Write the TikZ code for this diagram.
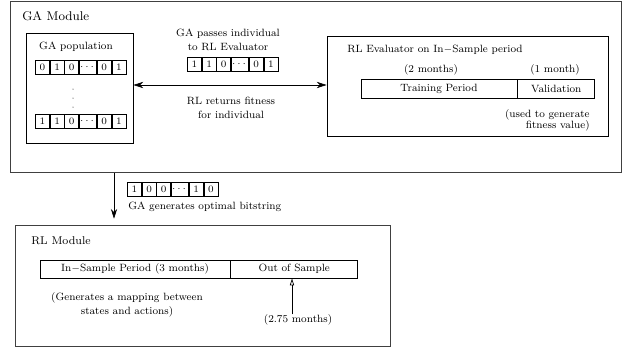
\documentclass[tikz,border=0pt]{standalone}
\usepackage{amsmath,amssymb}
\usepackage{tikz}
\usetikzlibrary{arrows.meta}
\usetikzlibrary{positioning}

\tikzset{
  module/.style={draw, line width=0.7pt, color=black!75, inner sep=0cm},
  subbox/.style={draw, line width=0.5pt, inner sep=0cm},
  cell/.style={draw, line width=0.5pt, inner sep=0cm, minimum width=0.35cm,
               minimum height=0.35cm, font=\fontsize{7}{8}\selectfont},
  dotcell/.style={cell, minimum width=0.425cm},
  period/.style={draw, line width=0.5pt, inner sep=0cm,
                 font=\fontsize{7.5}{9}\selectfont},
  txt/.style={font=\fontsize{7.5}{10}\selectfont, inner sep=0cm},
  title/.style={font=\fontsize{9}{11}\selectfont, inner sep=0cm, anchor=west},
  solidtip/.style={line width=0.5pt, -{Stealth[length=7pt,width=4.5pt]}},
  bothtips/.style={line width=0.5pt,
    {Stealth[length=7pt,width=4.5pt]}-{Stealth[length=7pt,width=4.5pt]}},
}

\begin{document}
\begin{tikzpicture}[x=0.025cm, y=-0.025cm]
\useasboundingbox (0,0) rectangle (624,349);

% GA module
\node[module, minimum width=15.25cm, minimum height=4.25cm] (gamod) at (316,87) {};
\node[title] (gatitle) at (22,16) {GA Module};

\node[subbox, minimum width=2.675cm, minimum height=2.75cm] (gapop) at (79.5,88) {};
\node[txt] (poptitle) at (76,47) {GA population};

\node[cell, anchor=west] (pa1) at (35,67) {0};
\node[cell, right=0pt of pa1] (pa2) {1};
\node[cell, right=0pt of pa2] (pa3) {0};
\node[dotcell, right=0pt of pa3] (pa4) {$\cdots$};
\node[cell, right=0pt of pa4] (pa5) {0};
\node[cell, right=0pt of pa5] (pa6) {1};

\fill (73,89) circle (0.5);
\fill (73,98) circle (0.5);
\fill (73,107) circle (0.5);

\node[cell, anchor=west] (pb1) at (35,121) {1};
\node[cell, right=0pt of pb1] (pb2) {1};
\node[cell, right=0pt of pb2] (pb3) {0};
\node[dotcell, right=0pt of pb3] (pb4) {$\cdots$};
\node[cell, right=0pt of pb4] (pb5) {0};
\node[cell, right=0pt of pb5] (pb6) {1};

\node[txt, align=center] (passes) at (228,40) {GA passes individual\\to RL Evaluator};
\node[cell, anchor=west] (ind1) at (187,64.5) {1};
\node[cell, right=0pt of ind1] (ind2) {1};
\node[cell, right=0pt of ind2] (ind3) {0};
\node[dotcell, right=0pt of ind3] (ind4) {$\cdots$};
\node[cell, right=0pt of ind4] (ind5) {0};
\node[cell, right=0pt of ind5] (ind6) {1};
\node[txt, align=center] (returns) at (231,107.5) {RL returns fitness\\for individual};

% RL evaluator
\node[subbox, minimum width=7.025cm, minimum height=2.5cm] (rleval) at (467.5,86) {};
\node[txt, anchor=west] (evaltitle) at (347,50) {RL Evaluator on In$-$Sample period};
\node[txt] (twomonths) at (431,70) {(2 months)};
\node[txt] (onemonth) at (555,70) {(1 month)};
\node[period, minimum width=3.9cm, minimum height=0.475cm] (train) at (439,88.5) {Training Period};
\node[period, minimum width=1.925cm, minimum height=0.475cm, right=0pt of train] (valid) {Validation};
\node[txt, align=right, anchor=east, font=\fontsize{7.5}{8}\selectfont] (fitval) at (590,120) {(used to generate\\fitness value)};

\coordinate (ay) at (0,85);
\draw[bothtips] (gapop.east |- ay) -- (rleval.west |- ay);

% RL module
\node[module, minimum width=9.35cm, minimum height=3cm] (rlmod) at (203,286) {};
\node[title, font=\fontsize{8}{10}\selectfont] (rltitle) at (31,241) {RL Module};

\coordinate (dn) at (114,0);
\draw[solidtip, shorten >=0.17cm]
  (gamod.south -| dn) -- (rlmod.north -| dn);

\node[cell, anchor=west] (opt1) at (127,189) {1};
\node[cell, right=0pt of opt1] (opt2) {0};
\node[cell, right=0pt of opt2] (opt3) {0};
\node[dotcell, right=0pt of opt3] (opt4) {$\cdots$};
\node[cell, right=0pt of opt4] (opt5) {1};
\node[cell, right=0pt of opt5] (opt6) {0};
\node[txt, anchor=west] (gagen) at (128,207) {GA generates optimal bitstring};

\node[period, minimum width=4.75cm, minimum height=0.45cm] (insample) at (135,269) {In$-$Sample Period (3 months)};
\node[period, minimum width=3.175cm, minimum height=0.45cm, right=0pt of insample] (outsample) {Out of Sample};
\node[txt, align=center] (mapping) at (127,305) {(Generates a mapping between\\states and actions)};
\node[txt] (months275) at (298,320) {(2.75 months)};

\coordinate (up) at (292,0);
\draw[line width=0.5pt, -{Triangle[open,length=5pt,width=3pt]}]
  (months275.north -| up) -- (outsample.south -| up);
\end{tikzpicture}
\end{document}
